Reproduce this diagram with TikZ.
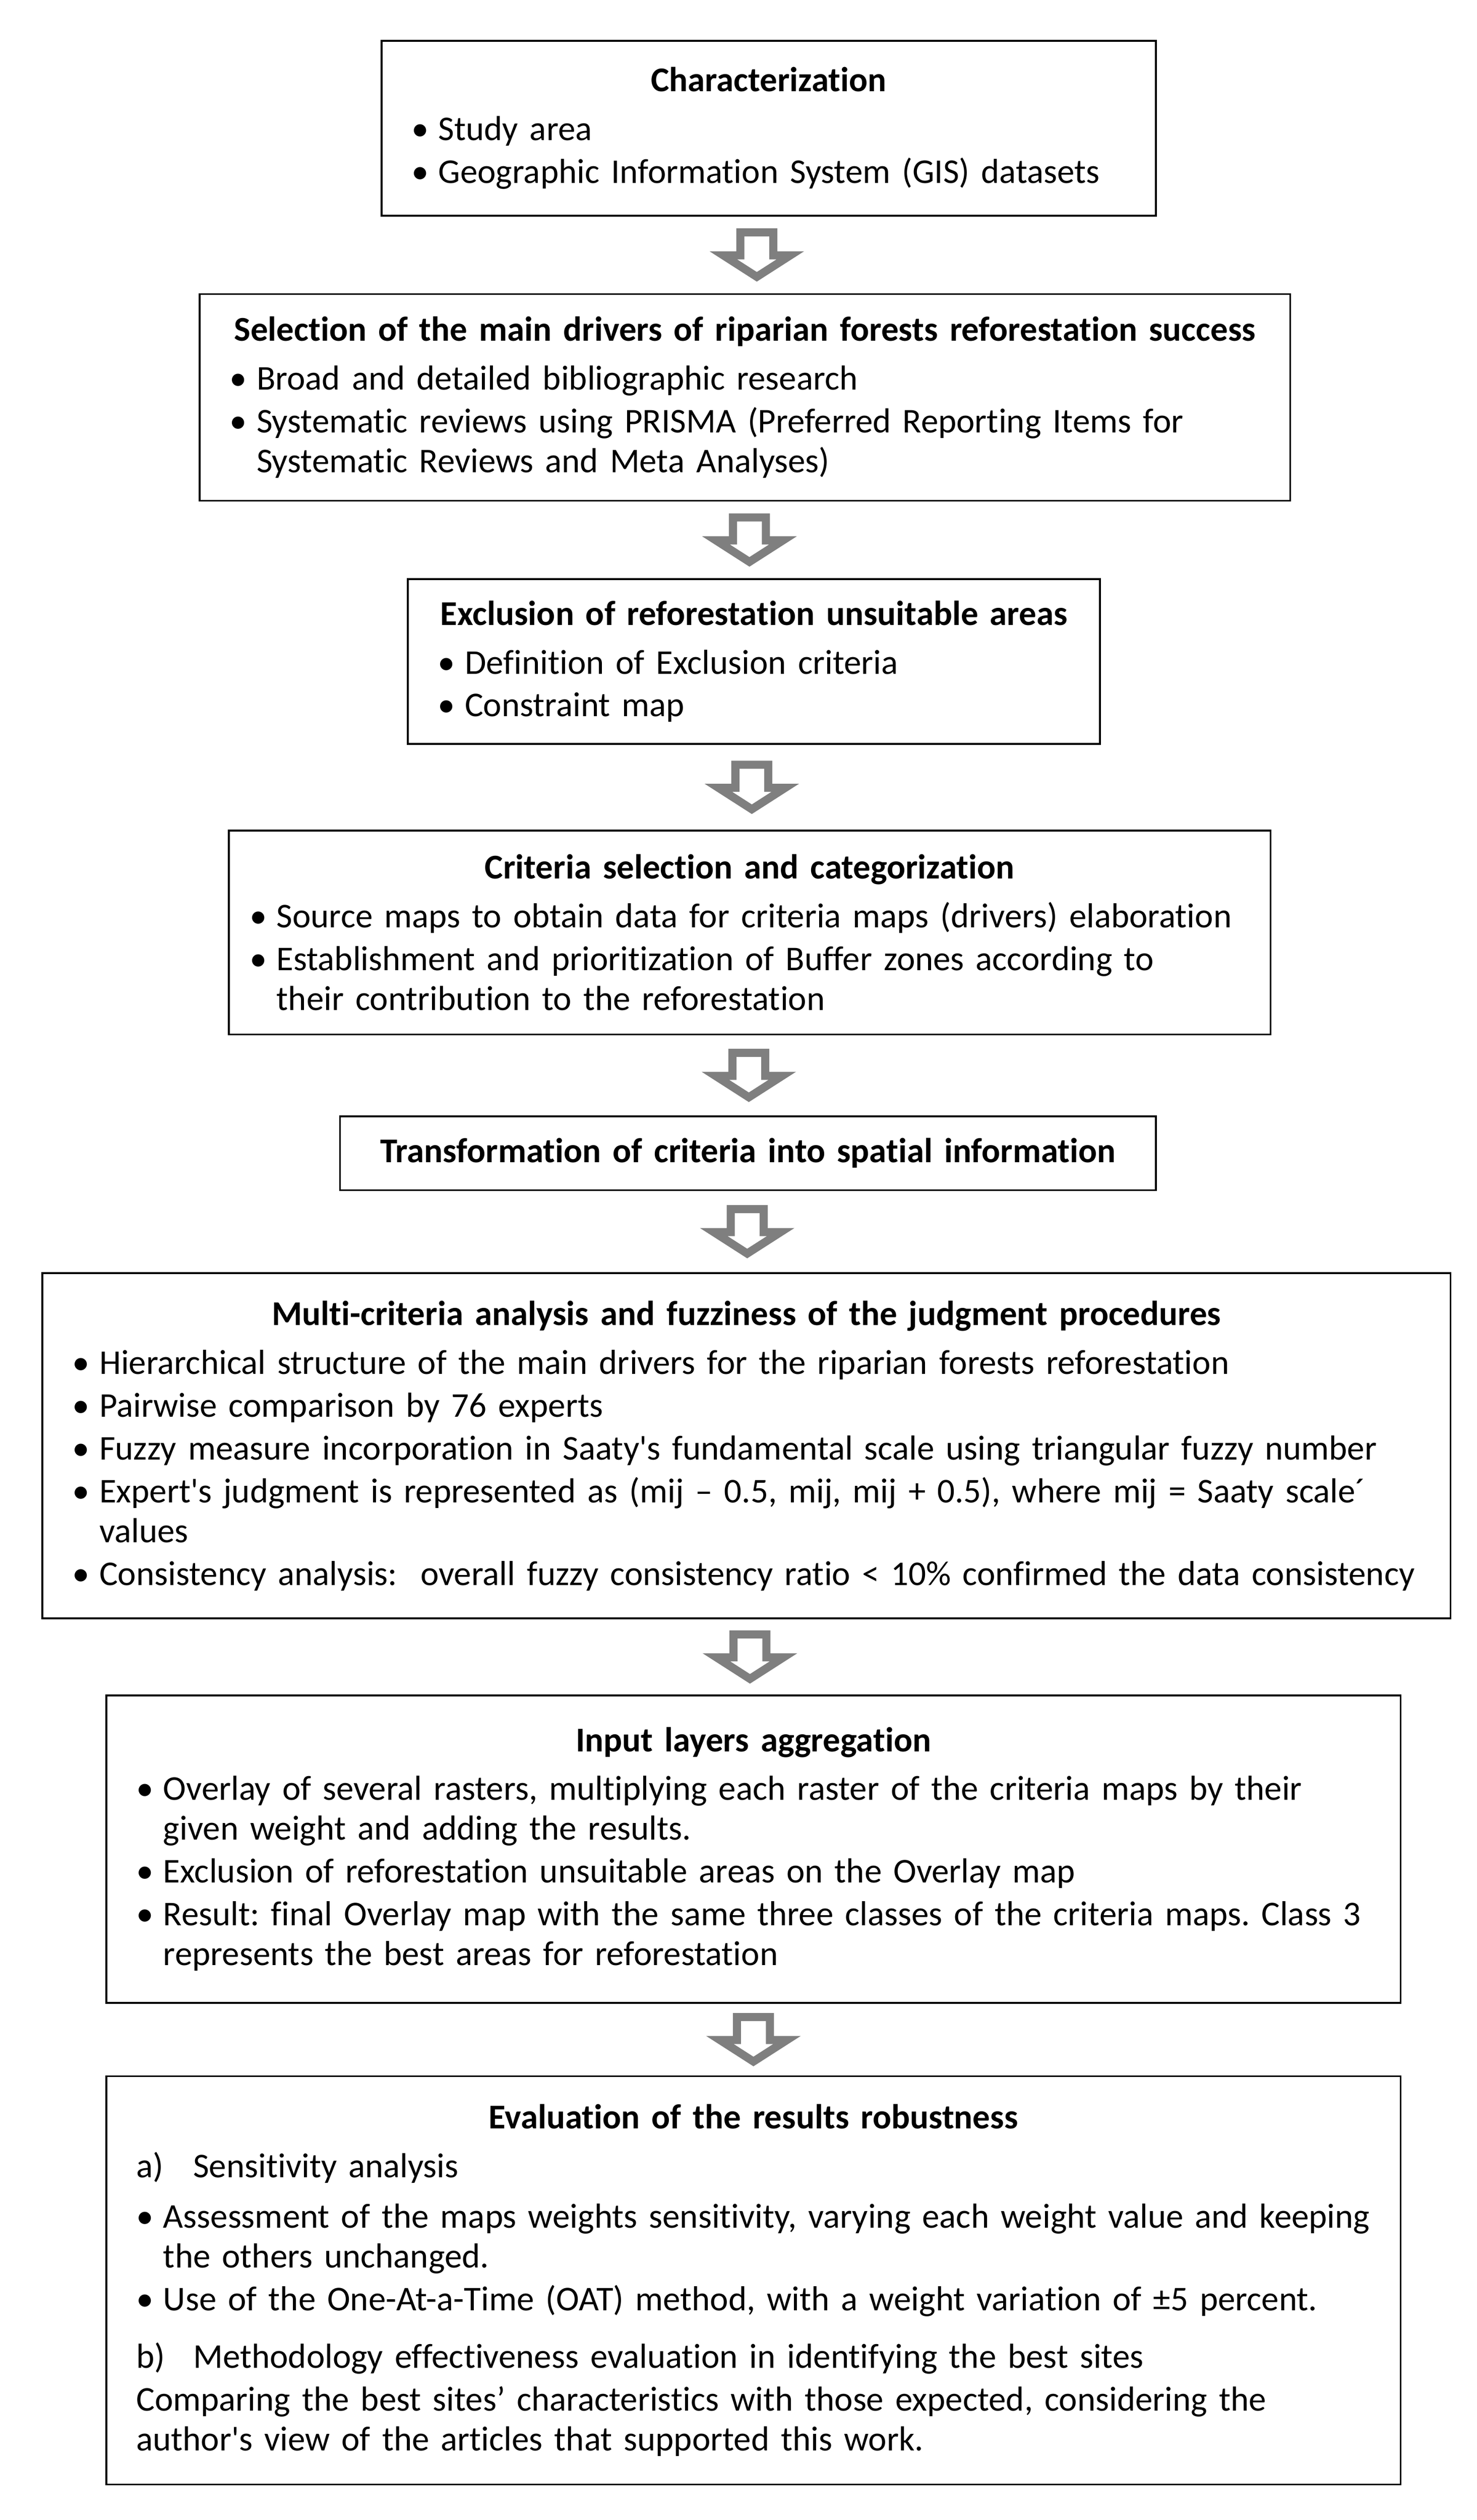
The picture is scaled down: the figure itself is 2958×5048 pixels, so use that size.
\documentclass[tikz,border=0pt]{standalone}
\usepackage{fontspec}
\setmainfont{Carlito}[Ligatures={TeXOff,NoCommon}]
\usetikzlibrary{calc}

\definecolor{arrowgray}{HTML}{7F7F7F}

\newcommand{\boxfont}{\fontsize{11.6}{13.3}\selectfont\frenchspacing
  \hyphenpenalty=10000\relax\setlength{\parskip}{1pt}\setlength{\parindent}{0pt}}
\newcommand{\bul}[1]{\par\hangindent=9pt\hangafter=1\noindent\makebox[9pt][l]{\textbullet}#1\par}
\newcommand{\boxtitle}[1]{{\centering\textbf{#1}\par}\vspace{2pt}}
\newcommand{\flowarrow}[2]{%
  \path ($(#1.south)!0.5!(#2.north)$) coordinate (#1#2);
  \draw[blockarrow] ($(#1#2)+(-33,-45)$) -- ++(66,0) -- ++(0,46) -- ++(34,0)
    -- ++(-67,43) -- ++(-67,-43) -- ++(34,0) -- cycle;}

\tikzset{
  stepbox/.style={draw, line width=0.6pt, inner xsep=10pt, inner ysep=0pt, align=left, font=\boxfont},
  blockarrow/.style={draw=arrowgray, line width=2.7pt, fill=white, line join=miter},
}

\begin{document}
\begin{tikzpicture}[x=0.16667pt, y=-0.16667pt]
  \useasboundingbox (0,0) rectangle (2958,5048);

  \node[stepbox, text width=238.5pt, minimum height=58.33pt] (b1) at (1539.5,257) {%
    \boxtitle{Characterization}
    \bul{Study area}
    \bul{Geographic Information System (GIS) datasets}};

  \node[stepbox, text width=344pt, minimum height=69pt] (b2) at (1492,796) {%
    \boxtitle{Selection of the main drivers of riparian forests reforestation success}
    \bul{Broad and detailed bibliographic research}
    \bul{Systematic reviews using PRISMA (Preferred Reporting Items for\newline Systematic Reviews and Meta Analyses)}};

  \node[stepbox, text width=211pt, minimum height=55pt] (b3) at (1510,1325) {%
    \boxtitle{Exclusion of reforestation unsuitable areas}
    \bul{Definition of Exclusion criteria}
    \bul{Constraint map}};

  \node[stepbox, inner xsep=7pt, text width=333.8pt, minimum height=68pt] (b4) at (1501.5,1868) {%
    \boxtitle{Criteria selection and categorization}
    \bul{Source maps to obtain data for criteria maps (drivers) elaboration}
    \bul{Establishment and prioritization of Buffer zones according to\newline their contribution to the reforestation}};

  \node[stepbox, align=center, text width=252.3pt, minimum height=24.67pt] (b5) at (1498,2310) {%
    \textbf{Transformation of criteria into spatial information}};

  \node[stepbox, text width=450pt, minimum height=115.33pt] (b6) at (1495,2896) {%
    \boxtitle{Multi-criteria analysis and fuzziness of the judgment procedures}
    \bul{Hierarchical structure of the main drivers for the riparian forests reforestation}
    \bul{Pairwise comparison by 76 experts}
    \bul{Fuzzy measure incorporation in Saaty's fundamental scale using triangular fuzzy number}
    \bul{Expert's judgment is represented as (mij – 0.5, mij, mij + 0.5), where mij = Saaty scale´\newline values}
    \bul{Consistency analysis:\ \ overall fuzzy consistency ratio < 10\% confirmed the data consistency}};

  \node[stepbox, text width=412pt, minimum height=102.67pt] (b7) at (1509,3704) {%
    \boxtitle{Input layers aggregation}
    \bul{Overlay of several rasters, multiplying each raster of the criteria maps by their\newline given weight and adding the results.}
    \bul{Exclusion of reforestation unsuitable areas on the Overlay map}
    \bul{Result: final Overlay map with the same three classes of the criteria maps. Class 3\newline represents the best areas for reforestation}};

  \node[stepbox, text width=412pt, minimum height=136.33pt] (b8) at (1509,4568) {%
    \boxtitle{Evaluation of the results robustness}
    \par\makebox[19pt][l]{a)}Sensitivity analysis\par\vspace{2.5pt}
    \bul{Assessment of the maps weights sensitivity, varying each weight value and keeping\newline the others unchanged.}
    \bul{Use of the One-At-a-Time (OAT) method, with a weight variation of ±5 percent.}
    \par\vspace{5pt}\makebox[19pt][l]{b)}Methodology effectiveness evaluation in identifying the best sites
    \par Comparing the best sites’ characteristics with those expected, considering the\newline author's view of the articles that supported this work.};

  % hollow arrows between the steps
  \foreach \a/\b in {b1/b2,b2/b3,b3/b4,b4/b5,b5/b6,b6/b7,b7/b8}
    \flowarrow{\a}{\b};
\end{tikzpicture}
\end{document}
